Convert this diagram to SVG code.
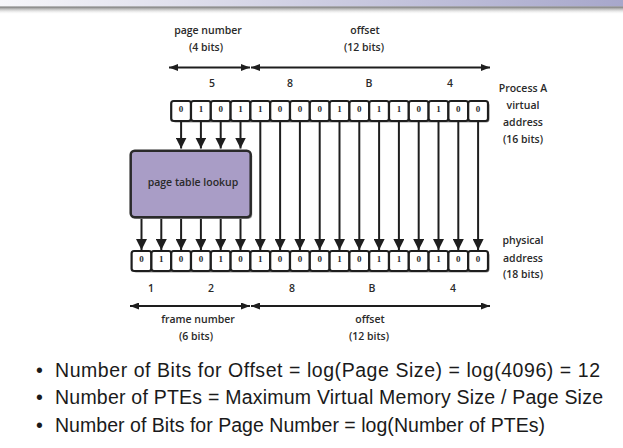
<svg xmlns="http://www.w3.org/2000/svg" width="623" height="448" viewBox="0 0 623 448">
<defs>
<linearGradient id="bar" x1="0" y1="0" x2="1" y2="0">
<stop offset="0" stop-color="#f6f6fa"/>
<stop offset="1" stop-color="#a7a7cb"/>
</linearGradient>
<linearGradient id="shadow" x1="0" y1="0" x2="0" y2="1">
<stop offset="0" stop-color="#6e6e6e"/>
<stop offset="1" stop-color="#ffffff" stop-opacity="0"/>
</linearGradient>
<marker id="ah" viewBox="0 0 11 11" markerWidth="11" markerHeight="11" refX="11" refY="5.5" orient="auto" markerUnits="userSpaceOnUse">
<path d="M0,0 L11,5.5 L0,11 Z" fill="#1e1e1e"/>
</marker>
<marker id="hh" viewBox="0 0 9 7" markerWidth="9" markerHeight="7" refX="9" refY="3.5" orient="auto-start-reverse" markerUnits="userSpaceOnUse">
<path d="M0,0 L9,3.5 L0,7 Z" fill="#1e1e1e"/>
</marker>
<style>
.lbl{font-family:"Open Sans","Liberation Sans",sans-serif;font-size:10.5px;font-weight:600;fill:#2a2a2a;text-anchor:middle}
.bit{font-family:"Liberation Serif","DejaVu Serif",serif;font-size:9px;font-weight:bold;fill:#2a2a2a;text-anchor:middle}
.cell{fill:#ffffff;stroke:#1e1e1e;stroke-width:2.2}
.ln{stroke:#1e1e1e;stroke-width:2;fill:none}
.va{marker-end:url(#ah)}
.ha{marker-start:url(#hh);marker-end:url(#hh)}
.bul{font-family:"Liberation Sans","DejaVu Sans",sans-serif;font-size:19.5px;fill:#1a1a1a}
</style>
</defs>
<rect width="623" height="448" fill="#ffffff"/>
<rect x="0" y="0" width="623" height="6.5" fill="url(#bar)"/>
<rect x="0" y="6.5" width="623" height="8" fill="url(#shadow)"/>

<g id="labels-top">
<text class="lbl" x="208" y="34">page number</text>
<text class="lbl" x="206" y="51">(4 bits)</text>
<text class="lbl" x="365" y="34">offset</text>
<text class="lbl" x="364" y="51">(12 bits)</text>
<text class="lbl" x="212" y="87">5</text>
<text class="lbl" x="290" y="87">8</text>
<text class="lbl" x="369" y="87">B</text>
<text class="lbl" x="450" y="87">4</text>
</g>

<g id="virtual-label">
<text class="lbl" x="523" y="92">Process A</text>
<text class="lbl" x="523" y="109">virtual</text>
<text class="lbl" x="523" y="126">address</text>
<text class="lbl" x="523" y="143">(16 bits)</text>
</g>

<g id="virtual-address">
<rect x="172.7" y="102.5" width="316.8" height="20" rx="3" fill="#9a9a9a"/>
<rect class="cell" x="171.2" y="101" width="19.8" height="20" rx="2.5"/>
<rect class="cell" x="191" y="101" width="19.8" height="20" rx="2.5"/>
<rect class="cell" x="210.8" y="101" width="19.8" height="20" rx="2.5"/>
<rect class="cell" x="230.6" y="101" width="19.8" height="20" rx="2.5"/>
<rect class="cell" x="250.4" y="101" width="19.8" height="20" rx="2.5"/>
<rect class="cell" x="270.2" y="101" width="19.8" height="20" rx="2.5"/>
<rect class="cell" x="290" y="101" width="19.8" height="20" rx="2.5"/>
<rect class="cell" x="309.8" y="101" width="19.8" height="20" rx="2.5"/>
<rect class="cell" x="329.6" y="101" width="19.8" height="20" rx="2.5"/>
<rect class="cell" x="349.4" y="101" width="19.8" height="20" rx="2.5"/>
<rect class="cell" x="369.2" y="101" width="19.8" height="20" rx="2.5"/>
<rect class="cell" x="389" y="101" width="19.8" height="20" rx="2.5"/>
<rect class="cell" x="408.8" y="101" width="19.8" height="20" rx="2.5"/>
<rect class="cell" x="428.6" y="101" width="19.8" height="20" rx="2.5"/>
<rect class="cell" x="448.4" y="101" width="19.8" height="20" rx="2.5"/>
<rect class="cell" x="468.2" y="101" width="19.8" height="20" rx="2.5"/>
<text class="bit" x="181.1" y="112">0</text>
<text class="bit" x="200.9" y="112">1</text>
<text class="bit" x="220.7" y="112">0</text>
<text class="bit" x="240.5" y="112">1</text>
<text class="bit" x="260.3" y="112">1</text>
<text class="bit" x="280.1" y="112">0</text>
<text class="bit" x="299.9" y="112">0</text>
<text class="bit" x="319.7" y="112">0</text>
<text class="bit" x="339.5" y="112">1</text>
<text class="bit" x="359.3" y="112">0</text>
<text class="bit" x="379.1" y="112">1</text>
<text class="bit" x="398.9" y="112">1</text>
<text class="bit" x="418.7" y="112">0</text>
<text class="bit" x="438.5" y="112">1</text>
<text class="bit" x="458.3" y="112">0</text>
<text class="bit" x="478.1" y="112">0</text>
</g>

<g id="page-table-lookup">
<rect x="132.2" y="152.2" width="120" height="66.6" rx="4" fill="#8a8a8a"/>
<rect x="130.7" y="150.7" width="120" height="66.6" rx="4" fill="#a99dc6" stroke="#2a2a2a" stroke-width="2.5"/>
<text class="lbl" x="193" y="185.5">page table lookup</text>
</g>

<g id="physical-address">
<rect x="133.1" y="252.5" width="356.4" height="20" rx="3" fill="#9a9a9a"/>
<rect class="cell" x="131.6" y="251" width="19.8" height="20" rx="2.5"/>
<rect class="cell" x="151.4" y="251" width="19.8" height="20" rx="2.5"/>
<rect class="cell" x="171.2" y="251" width="19.8" height="20" rx="2.5"/>
<rect class="cell" x="191" y="251" width="19.8" height="20" rx="2.5"/>
<rect class="cell" x="210.8" y="251" width="19.8" height="20" rx="2.5"/>
<rect class="cell" x="230.6" y="251" width="19.8" height="20" rx="2.5"/>
<rect class="cell" x="250.4" y="251" width="19.8" height="20" rx="2.5"/>
<rect class="cell" x="270.2" y="251" width="19.8" height="20" rx="2.5"/>
<rect class="cell" x="290" y="251" width="19.8" height="20" rx="2.5"/>
<rect class="cell" x="309.8" y="251" width="19.8" height="20" rx="2.5"/>
<rect class="cell" x="329.6" y="251" width="19.8" height="20" rx="2.5"/>
<rect class="cell" x="349.4" y="251" width="19.8" height="20" rx="2.5"/>
<rect class="cell" x="369.2" y="251" width="19.8" height="20" rx="2.5"/>
<rect class="cell" x="389" y="251" width="19.8" height="20" rx="2.5"/>
<rect class="cell" x="408.8" y="251" width="19.8" height="20" rx="2.5"/>
<rect class="cell" x="428.6" y="251" width="19.8" height="20" rx="2.5"/>
<rect class="cell" x="448.4" y="251" width="19.8" height="20" rx="2.5"/>
<rect class="cell" x="468.2" y="251" width="19.8" height="20" rx="2.5"/>
<text class="bit" x="141.5" y="261.5">0</text>
<text class="bit" x="161.3" y="261.5">1</text>
<text class="bit" x="181.1" y="261.5">0</text>
<text class="bit" x="200.9" y="261.5">0</text>
<text class="bit" x="220.7" y="261.5">1</text>
<text class="bit" x="240.5" y="261.5">0</text>
<text class="bit" x="260.3" y="261.5">1</text>
<text class="bit" x="280.1" y="261.5">0</text>
<text class="bit" x="299.9" y="261.5">0</text>
<text class="bit" x="319.7" y="261.5">0</text>
<text class="bit" x="339.5" y="261.5">1</text>
<text class="bit" x="359.3" y="261.5">0</text>
<text class="bit" x="379.1" y="261.5">1</text>
<text class="bit" x="398.9" y="261.5">1</text>
<text class="bit" x="418.7" y="261.5">0</text>
<text class="bit" x="438.5" y="261.5">1</text>
<text class="bit" x="458.3" y="261.5">0</text>
<text class="bit" x="478.1" y="261.5">0</text>
</g>

<g id="physical-label">
<text class="lbl" x="523" y="244">physical</text>
<text class="lbl" x="523" y="261.5">address</text>
<text class="lbl" x="523" y="278">(18 bits)</text>
</g>

<g id="labels-bottom">
<text class="lbl" x="151" y="291.5">1</text>
<text class="lbl" x="211" y="291.5">2</text>
<text class="lbl" x="292" y="291.5">8</text>
<text class="lbl" x="372" y="291.5">B</text>
<text class="lbl" x="453" y="291.5">4</text>
<text class="lbl" x="198" y="323">frame number</text>
<text class="lbl" x="196" y="339.5">(6 bits)</text>
<text class="lbl" x="370" y="323">offset</text>
<text class="lbl" x="369" y="339.5">(12 bits)</text>
</g>

<g id="connectors">
<line class="ln ha" x1="169" y1="67.5" x2="250" y2="67.5"/>
<line class="ln ha" x1="251" y1="67.5" x2="490" y2="67.5"/>
<line class="ln ha" x1="130" y1="306" x2="250" y2="306"/>
<line class="ln ha" x1="251" y1="306" x2="490" y2="306"/>
<line class="ln va" x1="181.1" y1="121" x2="181.1" y2="148.5"/>
<line class="ln va" x1="200.9" y1="121" x2="200.9" y2="148.5"/>
<line class="ln va" x1="220.7" y1="121" x2="220.7" y2="148.5"/>
<line class="ln va" x1="240.5" y1="121" x2="240.5" y2="148.5"/>
<line class="ln va" x1="260.3" y1="121" x2="260.3" y2="250"/>
<line class="ln va" x1="280.1" y1="121" x2="280.1" y2="250"/>
<line class="ln va" x1="299.9" y1="121" x2="299.9" y2="250"/>
<line class="ln va" x1="319.7" y1="121" x2="319.7" y2="250"/>
<line class="ln va" x1="339.5" y1="121" x2="339.5" y2="250"/>
<line class="ln va" x1="359.3" y1="121" x2="359.3" y2="250"/>
<line class="ln va" x1="379.1" y1="121" x2="379.1" y2="250"/>
<line class="ln va" x1="398.9" y1="121" x2="398.9" y2="250"/>
<line class="ln va" x1="418.7" y1="121" x2="418.7" y2="250"/>
<line class="ln va" x1="438.5" y1="121" x2="438.5" y2="250"/>
<line class="ln va" x1="458.3" y1="121" x2="458.3" y2="250"/>
<line class="ln va" x1="478.1" y1="121" x2="478.1" y2="250"/>
<line class="ln va" x1="141.5" y1="219" x2="141.5" y2="250"/>
<line class="ln va" x1="161.3" y1="219" x2="161.3" y2="250"/>
<line class="ln va" x1="181.1" y1="219" x2="181.1" y2="250"/>
<line class="ln va" x1="200.9" y1="219" x2="200.9" y2="250"/>
<line class="ln va" x1="220.7" y1="219" x2="220.7" y2="250"/>
<line class="ln va" x1="240.5" y1="219" x2="240.5" y2="250"/>
</g>

<g id="bullets">
<text class="bul" x="36" y="376.5">•</text>
<text class="bul" x="55" y="376.5" textLength="545" lengthAdjust="spacing">Number of Bits for Offset = log(Page Size) = log(4096) = 12</text>
<text class="bul" x="36" y="404">•</text>
<text class="bul" x="55" y="404" textLength="548" lengthAdjust="spacing">Number of PTEs = Maximum Virtual Memory Size / Page Size</text>
<text class="bul" x="36" y="432">•</text>
<text class="bul" x="55" y="432" textLength="490" lengthAdjust="spacing">Number of Bits for Page Number = log(Number of PTEs)</text>
</g>
</svg>
